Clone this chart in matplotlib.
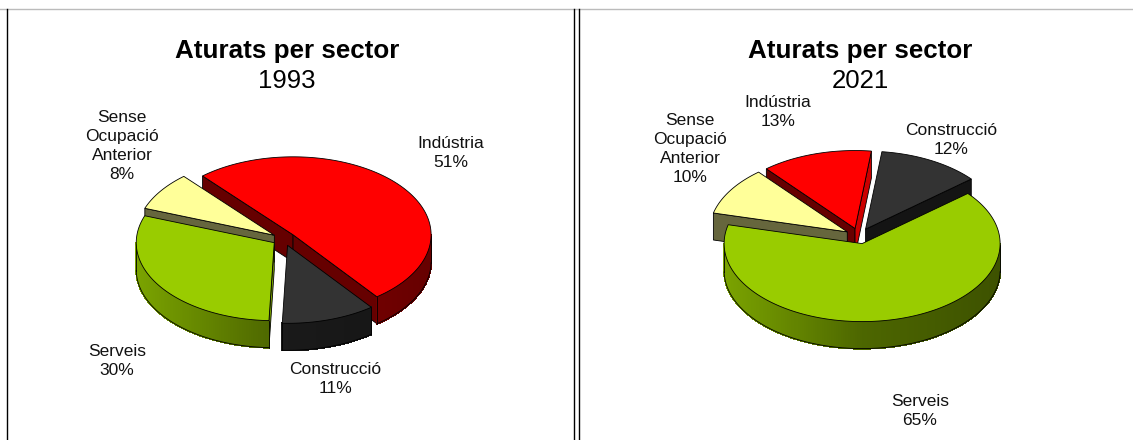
import numpy as np
import matplotlib
matplotlib.use("Agg")
import matplotlib.pyplot as plt

plt.rcParams["font.family"] = ["Liberation Sans", "DejaVu Sans"]

sectors = ["Indústria", "Construcció", "Serveis", "Sense\nOcupació\nAnterior"]
values_1993 = [51, 11, 30, 8]
values_2021 = [13, 12, 65, 10]
colors = ["#ff0000", "#333333", "#99cc00", "#ffff99"]

# label centres in pixels, same order as sectors
label_pos_1993 = [(451, 153), (335, 379), (117, 361), (122, 146)]
label_pos_2021 = [(778, 112), (951, 140), (920, 411), (690, 149)]


def shade(color, f):
    rgb = np.array(matplotlib.colors.to_rgb(color))
    return tuple(rgb * f)


def pie3d(ax, values, cx, cy, explode, rx=138, ry=78, depth=27, start=320):
    total = sum(values)
    angles = np.cumsum([0] + list(values)) / total * 360 + start
    slices = []
    for i in range(len(values)):
        slices.append((angles[i], angles[i + 1], colors[i]))
    # back slices first
    slices.sort(key=lambda s: -np.cos(np.radians((s[0] + s[1]) / 2)))

    for a0, a1, col in slices:
        mid = np.radians((a0 + a1) / 2)
        ox = cx + explode * rx * np.sin(mid)
        oy = cy - explode * ry * np.cos(mid)
        arc = np.radians(np.linspace(a0, a1, int(a1 - a0) + 2))
        xs = ox + rx * np.sin(arc)
        ys = oy - ry * np.cos(arc)

        # flat cut faces
        for ang, sign in ((arc[0], -1), (arc[-1], 1)):
            if sign * np.sin(ang) <= 0:
                continue
            f = 0.8 if sign * np.cos(ang) > 0.9 else 0.4
            ex = ox + rx * np.sin(ang)
            ey = oy - ry * np.cos(ang)
            ax.fill([ox, ex, ex, ox], [oy, ey, ey + depth, oy + depth],
                    facecolor=shade(col, f), edgecolor="black", lw=0.6, zorder=1)

        # outer wall in thin strips, darker to the right
        for j in range(len(arc) - 1):
            m = (arc[j] + arc[j + 1]) / 2
            if np.cos(m) >= 0:
                continue
            f = np.interp(np.sin(m), [-1, 0, 1], [0.8, 0.5, 0.4])
            ax.fill([xs[j], xs[j + 1], xs[j + 1], xs[j]],
                    [ys[j], ys[j + 1], ys[j + 1] + depth, ys[j] + depth],
                    facecolor=shade(col, f), edgecolor=shade(col, f), lw=0.8,
                    antialiased=False, zorder=1)
        front = np.cos(arc) < 0
        ax.plot(xs[front], ys[front] + depth, color="black", lw=0.6, zorder=1)
        if front.any():
            k = np.where(front)[0]
            for n in (k[0], k[-1]):
                ax.plot([xs[n], xs[n]], [ys[n], ys[n] + depth], color="black", lw=0.6, zorder=1)

        # top
        ax.fill(np.r_[ox, xs], np.r_[oy, ys], facecolor=col, edgecolor="black", lw=0.6, zorder=1)


def labels(ax, values, positions):
    for name, val, (x, y) in zip(sectors, values, positions):
        ax.text(x, y, f"{name}\n{val}%", ha="center", va="center", fontsize=12.5,
                linespacing=1.35, color="#111111", zorder=3)


fig = plt.figure(figsize=(11.33, 4.4), dpi=100)
ax = fig.add_axes([0, 0, 1, 1])
ax.set_xlim(0, 1133)
ax.set_ylim(440, 0)
ax.axis("off")

# panel frame
ax.plot([0, 1133], [9, 9], color="#bbbbbb", lw=1)
for x in [6.5, 574, 578.5]:
    ax.plot([x, x], [9, 440], color="black", lw=1)

pie3d(ax, values_1993, 284, 239, 0.085, start=319)
pie3d(ax, values_2021, 859, 236, 0.10)
labels(ax, values_1993, label_pos_1993)
labels(ax, values_2021, label_pos_2021)

for x, year in ((287, "1993"), (860, "2021")):
    ax.text(x, 51, "Aturats per sector", ha="center", va="center", fontsize=18.7, fontweight="bold")
    ax.text(x, 81, year, ha="center", va="center", fontsize=18.5)

plt.savefig("out.png", dpi=100)
